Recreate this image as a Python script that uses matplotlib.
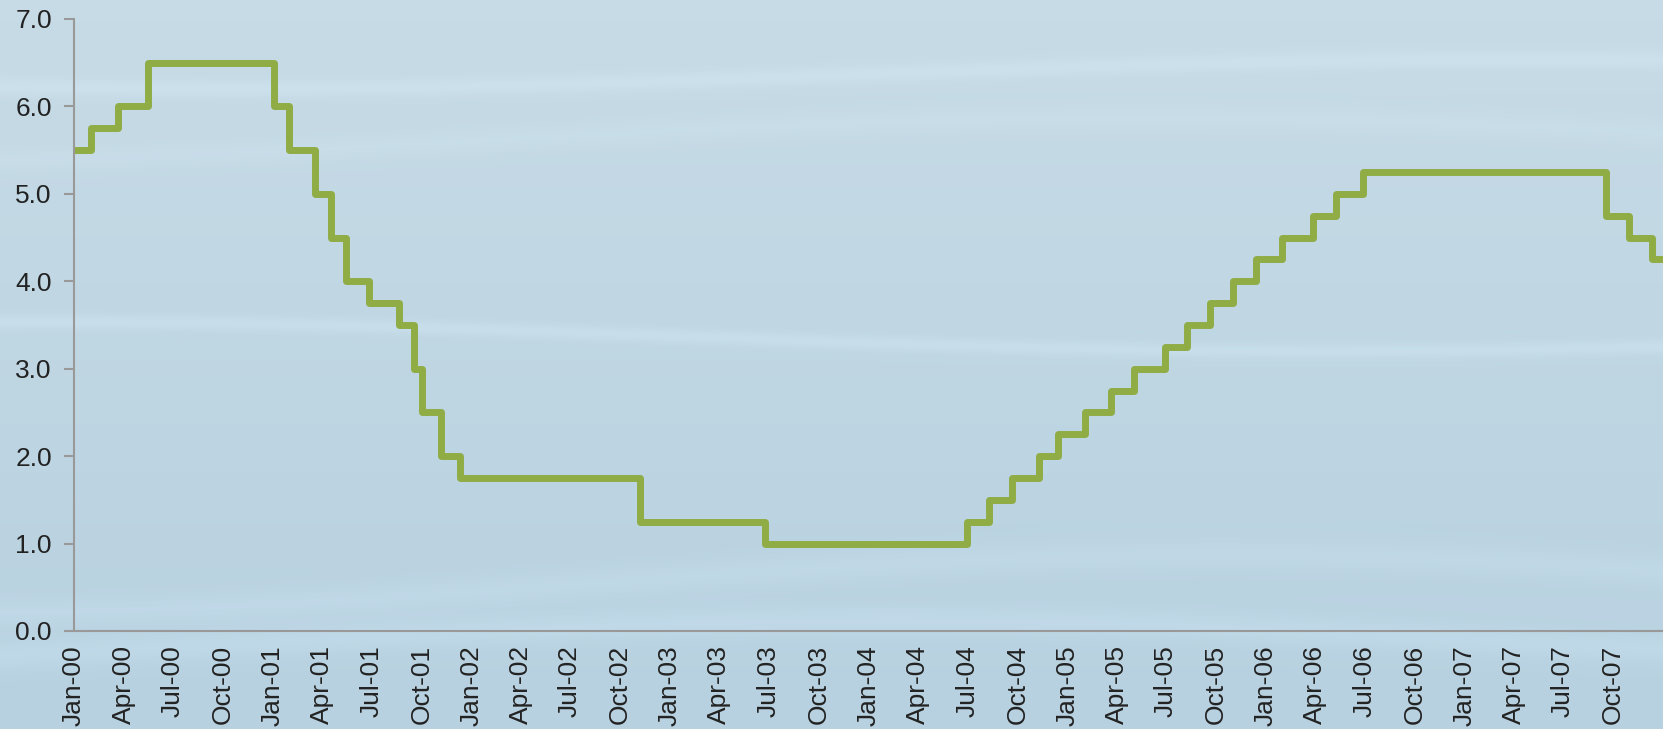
import matplotlib
matplotlib.use('Agg')
import matplotlib.pyplot as plt
import matplotlib.dates as mdates
import numpy as np
import pandas as pd

plt.rcParams['font.family'] = ['Liberation Sans', 'DejaVu Sans']

# fed funds target rate, change dates and new levels
change_dates = ['2000-01-01', '2000-02-02', '2000-03-21', '2000-05-16',
                '2001-01-03', '2001-01-31', '2001-03-20', '2001-04-18',
                '2001-05-15', '2001-06-27', '2001-08-21', '2001-09-17',
                '2001-10-02', '2001-11-06', '2001-12-11', '2002-11-06',
                '2003-06-25', '2004-06-30', '2004-08-10', '2004-09-21',
                '2004-11-10', '2004-12-14', '2005-02-02', '2005-03-22',
                '2005-05-03', '2005-06-30', '2005-08-09', '2005-09-20',
                '2005-11-01', '2005-12-13', '2006-01-31', '2006-03-28',
                '2006-05-10', '2006-06-29', '2007-09-18', '2007-10-31',
                '2007-12-11', '2008-01-01']
rates = [5.50, 5.75, 6.00, 6.50,
         6.00, 5.50, 5.00, 4.50,
         4.00, 3.75, 3.50, 3.00,
         2.50, 2.00, 1.75, 1.25,
         1.00, 1.25, 1.50, 1.75,
         2.00, 2.25, 2.50, 2.75,
         3.00, 3.25, 3.50, 3.75,
         4.00, 4.25, 4.50, 4.75,
         5.00, 5.25, 4.75, 4.50,
         4.25, 4.25]
tick_dates = pd.date_range('2000-01-01', '2007-10-01', freq='QS')
y_ticks = [0, 1, 2, 3, 4, 5, 6, 7]

dates = pd.to_datetime(change_dates)

fig = plt.figure(figsize=(16.63, 7.29), dpi=100)

# background: soft blue gradient with faint light streaks
bg = fig.add_axes([0, 0, 1, 1])
h, w = 300, 600
yy, xx = np.mgrid[0:h, 0:w]
t = yy / h
top = np.array([0.78, 0.86, 0.90])
bot = np.array([0.72, 0.82, 0.88])
img = top[None, None, :] * (1 - t[..., None]) + bot[None, None, :] * t[..., None]
for yc, amp, wid, strength in [(0.10, 0.02, 0.012, 0.025), (0.19, 0.03, 0.015, 0.015),
                               (0.46, 0.02, 0.010, 0.03), (0.80, 0.04, 0.02, 0.02),
                               (0.88, 0.03, 0.02, 0.025)]:
    centre = yc + amp * np.sin(xx / w * np.pi * 1.3 + yc * 10)
    band = np.exp(-((t - centre) / wid) ** 2)
    img += strength * band[..., None]
bg.imshow(np.clip(img, 0, 1), aspect='auto', extent=[0, 1, 0, 1], origin='upper')
bg.axis('off')

ax = fig.add_axes([74 / 1663, 98 / 729, 1 - 74 / 1663, (631 - 19) / 729])
ax.patch.set_alpha(0)
ax.plot(dates, rates, drawstyle='steps-post', color='#8fac45', lw=5,
        solid_joinstyle='round', solid_capstyle='round')

ax.set_ylim(0, 7)
ax.set_yticks(y_ticks)
ax.yaxis.set_major_formatter(plt.FuncFormatter(lambda v, p: f'{v:.1f}'))
ax.set_xlim(pd.Timestamp('2000-01-01'), pd.Timestamp('2008-01-01'))
ax.set_xticks(tick_dates)
ax.xaxis.set_major_formatter(mdates.DateFormatter('%b-%y'))
plt.setp(ax.get_xticklabels(), rotation=90, ha='center', va='top')

for s in ['top', 'right']:
    ax.spines[s].set_visible(False)
for s in ['left', 'bottom']:
    ax.spines[s].set_color('#999999')
    ax.spines[s].set_linewidth(1.5)
ax.tick_params(axis='y', colors='#999999', labelcolor='#222222', labelsize=19,
               length=7, width=1.5, pad=9)
ax.tick_params(axis='x', length=0, labelcolor='#222222', labelsize=19, pad=10)

fig.savefig('out.png', dpi=100)
